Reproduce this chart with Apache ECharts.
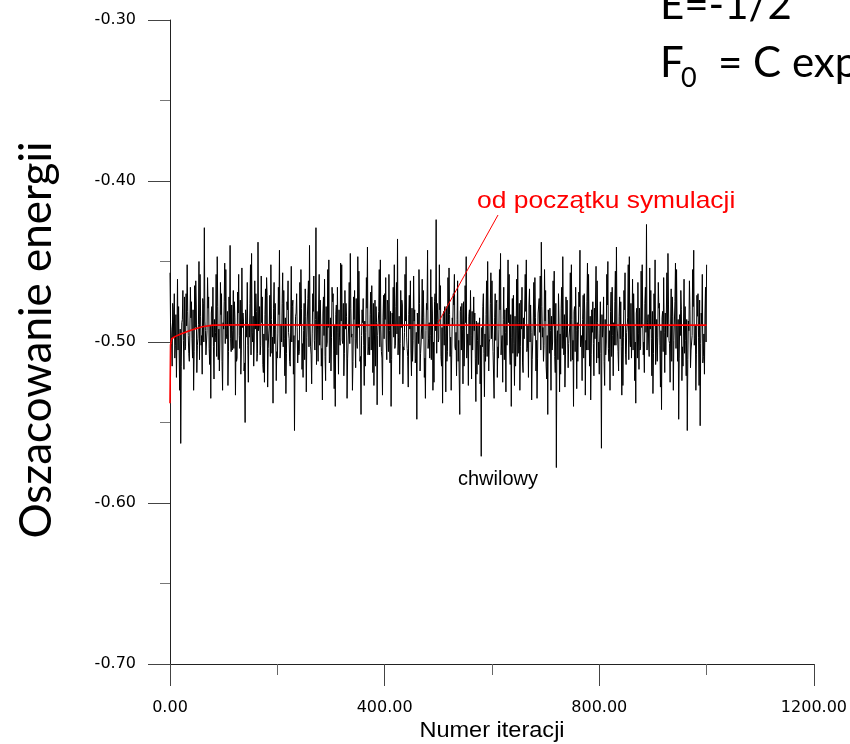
<!DOCTYPE html>
<html>
<head>
<meta charset="utf-8">
<script src="https://cdn.jsdelivr.net/npm/echarts@6/dist/echarts.min.js"></script>
<style>
html,body{margin:0;padding:0;background:#fff;}
#chart{width:850px;height:744px;}
</style>
</head>
<body>
<div id="chart"></div>
<script>
// Instantaneous energy estimate ("chwilowy").
// Values at even iterations 0,2,4,...,1000
const evenIterValues = [
 -0.457,-0.492,-0.515,-0.480,-0.470,-0.502,-0.522,-0.461,-0.478,-0.530,-0.563,-0.488,-0.468,-0.517,-0.505,-0.470,-0.452,-0.496,-0.512,-0.466,
 -0.475,-0.510,-0.530,-0.465,-0.462,-0.519,-0.498,-0.450,-0.458,-0.502,-0.520,-0.476,-0.429,-0.493,-0.508,-0.460,-0.472,-0.514,-0.535,-0.478,
 -0.466,-0.523,-0.500,-0.458,-0.447,-0.511,-0.518,-0.463,-0.470,-0.530,-0.492,-0.451,-0.455,-0.498,-0.527,-0.472,-0.440,-0.506,-0.505,-0.468,
 -0.475,-0.533,-0.512,-0.469,-0.458,-0.504,-0.520,-0.454,-0.482,-0.518,-0.550,-0.479,-0.463,-0.525,-0.497,-0.452,-0.445,-0.500,-0.515,-0.462,
 -0.470,-0.512,-0.438,-0.490,-0.508,-0.459,-0.472,-0.519,-0.525,-0.467,-0.460,-0.528,-0.495,-0.471,-0.452,-0.507,-0.538,-0.463,-0.476,-0.524,
 -0.510,-0.466,-0.443,-0.505,-0.500,-0.457,-0.468,-0.521,-0.532,-0.475,-0.462,-0.498,-0.515,-0.453,-0.478,-0.520,-0.555,-0.484,-0.470,-0.513,
 -0.508,-0.463,-0.455,-0.517,-0.522,-0.476,-0.467,-0.531,-0.498,-0.462,-0.440,-0.503,-0.526,-0.470,-0.459,-0.505,-0.429,-0.481,-0.512,-0.458,
 -0.474,-0.515,-0.536,-0.472,-0.461,-0.524,-0.503,-0.455,-0.449,-0.509,-0.518,-0.466,-0.470,-0.529,-0.540,-0.477,-0.466,-0.520,-0.497,-0.451,
 -0.452,-0.501,-0.521,-0.468,-0.476,-0.535,-0.510,-0.463,-0.445,-0.497,-0.530,-0.472,-0.468,-0.516,-0.500,-0.447,-0.456,-0.512,-0.545,-0.480,
 -0.473,-0.527,-0.515,-0.460,-0.441,-0.503,-0.508,-0.469,-0.465,-0.519,-0.527,-0.474,-0.478,-0.539,-0.496,-0.455,-0.449,-0.506,-0.533,-0.471,
 -0.470,-0.460,-0.511,-0.477,-0.458,-0.513,-0.540,-0.482,-0.466,-0.452,-0.502,-0.463,-0.436,-0.497,-0.520,-0.468,-0.474,-0.526,-0.505,-0.458,
 -0.447,-0.504,-0.528,-0.471,-0.462,-0.521,-0.512,-0.459,-0.480,-0.510,-0.548,-0.493,-0.455,-0.518,-0.500,-0.461,-0.468,-0.522,-0.535,-0.476,
 -0.443,-0.498,-0.510,-0.455,-0.472,-0.530,-0.525,-0.470,-0.424,-0.476,-0.500,-0.452,-0.465,-0.515,-0.538,-0.481,-0.478,-0.531,-0.512,-0.460,
 -0.454,-0.509,-0.530,-0.485,-0.470,-0.458,-0.505,-0.521,-0.462,-0.499,-0.545,-0.478,-0.476,-0.526,-0.515,-0.465,-0.447,-0.511,-0.527,-0.480,
 -0.468,-0.523,-0.505,-0.472,-0.482,-0.537,-0.520,-0.488,-0.495,-0.526,-0.571,-0.503,-0.470,-0.534,-0.512,-0.462,-0.450,-0.518,-0.498,-0.457,
 -0.462,-0.506,-0.535,-0.470,-0.476,-0.522,-0.510,-0.455,-0.445,-0.500,-0.525,-0.466,-0.480,-0.531,-0.502,-0.449,-0.458,-0.514,-0.540,-0.473,
 -0.471,-0.527,-0.515,-0.461,-0.452,-0.507,-0.530,-0.474,-0.466,-0.519,-0.498,-0.458,-0.449,-0.504,-0.522,-0.467,-0.477,-0.536,-0.510,-0.463,
 -0.460,-0.518,-0.535,-0.482,-0.473,-0.459,-0.438,-0.497,-0.512,-0.455,-0.468,-0.523,-0.545,-0.486,-0.479,-0.530,-0.505,-0.462,-0.456,-0.519,
 -0.578,-0.493,-0.470,-0.531,-0.520,-0.466,-0.447,-0.508,-0.528,-0.472,-0.474,-0.516,-0.500,-0.457,-0.452,-0.511,-0.540,-0.478,-0.466,-0.529,
 -0.512,-0.469,-0.443,-0.502,-0.524,-0.471,-0.470,-0.533,-0.505,-0.451,-0.458,-0.515,-0.536,-0.480,-0.475,-0.521,-0.498,-0.453,-0.462,-0.510,
 -0.520,-0.475,-0.566,-0.497,-0.472,-0.527,-0.508,-0.458,-0.450,-0.512,-0.530,-0.469,-0.466,-0.521,-0.502,-0.456,-0.441,-0.495,-0.518,-0.472,
 -0.475,-0.533,-0.527,-0.468,-0.457,-0.514,-0.495,-0.452,-0.447,-0.503,-0.510,-0.461,-0.470,-0.524,-0.538,-0.479,-0.463,-0.517,-0.505,-0.456,
 -0.452,-0.508,-0.519,-0.466,-0.427,-0.488,-0.500,-0.454,-0.468,-0.521,-0.532,-0.470,-0.449,-0.505,-0.512,-0.463,-0.476,-0.528,-0.542,-0.481,
 -0.460,-0.519,-0.508,-0.457,-0.445,-0.499,-0.525,-0.467,-0.472,-0.530,-0.500,-0.451,-0.455,-0.512,-0.548,-0.483,-0.468,-0.524,-0.515,-0.461,
 -0.478,-0.521,-0.555,-0.487,-0.462,-0.516,-0.505,-0.455,-0.443,-0.498,-0.530,-0.471,-0.470,-0.527,-0.552,-0.482,-0.458,-0.509,-0.520,-0.466,
 -0.452
];
// Values at odd iterations 1,3,5,...,999
const oddIterValues = [
 -0.488,-0.501,-0.476,-0.497,-0.510,-0.483,-0.495,-0.505,-0.479,-0.492,-0.515,-0.486,-0.499,-0.472,-0.503,-0.490,-0.481,-0.507,-0.494,-0.485,
 -0.498,-0.480,-0.506,-0.491,-0.477,-0.502,-0.489,-0.511,-0.484,-0.496,-0.473,-0.500,-0.487,-0.508,-0.493,-0.479,-0.504,-0.490,-0.482,-0.497,
 -0.503,-0.486,-0.494,-0.509,-0.478,-0.492,-0.500,-0.483,-0.512,-0.488,-0.475,-0.501,-0.495,-0.481,-0.506,-0.490,-0.498,-0.477,-0.493,-0.504,
 -0.485,-0.499,-0.510,-0.482,-0.496,-0.474,-0.505,-0.491,-0.487,-0.513,-0.480,-0.497,-0.502,-0.489,-0.476,-0.508,-0.494,-0.484,-0.500,-0.492,
 -0.481,-0.507,-0.493,-0.478,-0.502,-0.488,-0.514,-0.495,-0.483,-0.499,-0.471,-0.504,-0.490,-0.509,-0.486,-0.497,-0.479,-0.501,-0.492,-0.506,
 -0.495,-0.483,-0.510,-0.489,-0.476,-0.503,-0.498,-0.485,-0.507,-0.480,-0.494,-0.512,-0.487,-0.500,-0.474,-0.496,-0.505,-0.482,-0.491,-0.499,
 -0.506,-0.490,-0.479,-0.501,-0.493,-0.511,-0.484,-0.497,-0.473,-0.503,-0.488,-0.508,-0.495,-0.481,-0.499,-0.486,-0.514,-0.492,-0.477,-0.502,
 -0.489,-0.504,-0.482,-0.496,-0.509,-0.478,-0.500,-0.491,-0.513,-0.485,-0.497,-0.475,-0.505,-0.490,-0.483,-0.508,-0.494,-0.480,-0.502,-0.487,
 -0.499,-0.476,-0.507,-0.492,-0.484,-0.510,-0.489,-0.501,-0.479,-0.495,-0.512,-0.486,-0.498,-0.473,-0.504,-0.491,-0.482,-0.509,-0.496,-0.488,
 -0.502,-0.487,-0.494,-0.479,-0.508,-0.497,-0.483,-0.505,-0.490,-0.476,-0.500,-0.515,-0.488,-0.496,-0.481,-0.503,-0.492,-0.510,-0.485,-0.498,
 -0.486,-0.500,-0.474,-0.506,-0.493,-0.481,-0.511,-0.489,-0.497,-0.504,-0.478,-0.495,-0.508,-0.484,-0.501,-0.491,-0.477,-0.503,-0.494,-0.487,
 -0.497,-0.509,-0.483,-0.492,-0.505,-0.479,-0.499,-0.487,-0.513,-0.494,-0.482,-0.501,-0.476,-0.507,-0.490,-0.498,-0.485,-0.510,-0.493,-0.480,
 -0.504,-0.488,-0.496,-0.511,-0.482,-0.500,-0.475,-0.493,-0.507,-0.486,-0.498,-0.480,-0.509,-0.491,-0.484,-0.502,-0.495,-0.478,-0.506,-0.489,
 -0.483,-0.497,-0.508,-0.490,-0.477,-0.503,-0.494,-0.486,-0.512,-0.499,-0.481,-0.505,-0.492,-0.475,-0.500,-0.488,-0.510,-0.495,-0.484,-0.502,
 -0.496,-0.481,-0.504,-0.493,-0.510,-0.487,-0.499,-0.514,-0.485,-0.502,-0.491,-0.478,-0.507,-0.495,-0.483,-0.509,-0.490,-0.500,-0.476,-0.498,
 -0.490,-0.506,-0.485,-0.499,-0.474,-0.503,-0.492,-0.480,-0.508,-0.496,-0.486,-0.511,-0.494,-0.479,-0.501,-0.488,-0.505,-0.483,-0.497,-0.507,
 -0.501,-0.484,-0.495,-0.509,-0.488,-0.476,-0.503,-0.492,-0.513,-0.485,-0.498,-0.481,-0.506,-0.490,-0.477,-0.500,-0.494,-0.511,-0.487,-0.496,
 -0.485,-0.499,-0.510,-0.482,-0.494,-0.505,-0.478,-0.491,-0.502,-0.487,-0.515,-0.496,-0.480,-0.507,-0.493,-0.484,-0.500,-0.489,-0.509,-0.476,
 -0.498,-0.511,-0.487,-0.495,-0.479,-0.504,-0.492,-0.483,-0.508,-0.497,-0.474,-0.501,-0.490,-0.512,-0.486,-0.499,-0.481,-0.506,-0.493,-0.488,
 -0.492,-0.478,-0.503,-0.496,-0.486,-0.510,-0.482,-0.499,-0.475,-0.505,-0.491,-0.484,-0.508,-0.494,-0.501,-0.479,-0.497,-0.513,-0.488,-0.500,
 -0.495,-0.507,-0.483,-0.491,-0.512,-0.486,-0.500,-0.477,-0.504,-0.493,-0.481,-0.509,-0.496,-0.488,-0.475,-0.502,-0.490,-0.506,-0.484,-0.498,
 -0.503,-0.489,-0.497,-0.480,-0.508,-0.494,-0.485,-0.511,-0.499,-0.476,-0.492,-0.505,-0.487,-0.500,-0.482,-0.510,-0.495,-0.479,-0.503,-0.491,
 -0.487,-0.500,-0.476,-0.494,-0.505,-0.483,-0.509,-0.492,-0.498,-0.481,-0.507,-0.490,-0.514,-0.486,-0.497,-0.479,-0.502,-0.493,-0.485,-0.506,
 -0.494,-0.482,-0.508,-0.497,-0.477,-0.501,-0.489,-0.512,-0.484,-0.499,-0.475,-0.504,-0.492,-0.486,-0.510,-0.496,-0.480,-0.503,-0.490,-0.507,
 -0.499,-0.486,-0.511,-0.493,-0.480,-0.505,-0.496,-0.478,-0.502,-0.490,-0.508,-0.484,-0.497,-0.474,-0.501,-0.489,-0.513,-0.495,-0.482,-0.500
];

// Running average "od początku symulacji"
const runningIter = [0, 1, 3, 10, 20, 40, 60, 80, 150, 300, 500, 700, 900, 1000];
const runningAvg  = [-0.538, -0.502, -0.498, -0.4965, -0.495, -0.4925, -0.4905, -0.4895, -0.4893, -0.4895, -0.4895, -0.4894, -0.4895, -0.4895];

const instantData = [];
evenIterValues.forEach((v, i) => {
  instantData.push([2 * i, v]);
  if (i < oddIterValues.length) instantData.push([2 * i + 1, oddIterValues[i]]);
});
const runningData = runningIter.map((x, i) => [x, runningAvg[i]]);

const chart = echarts.init(document.getElementById('chart'), null, {renderer: 'canvas'});
const AX = '#222';
const LBL = {fontFamily: 'DejaVu Sans', fontSize: 16, color: '#000'};

chart.setOption({
  animation: false,
  backgroundColor: '#fff',
  grid: {left: 170, right: 35, top: 20, bottom: 80},
  xAxis: {
    type: 'value', min: 0, max: 1200, interval: 400,
    axisLine: {show: true, onZero: false, lineStyle: {color: AX, width: 1}},
    axisTick: {show: true, length: 22, lineStyle: {color: '#444'}},
    minorTick: {show: true, splitNumber: 2, length: 11, lineStyle: {color: '#666'}},
    splitLine: {show: false},
    axisLabel: Object.assign({margin: 36, showMaxLabel: true, showMinLabel: true,
      formatter: v => v.toFixed(2)}, LBL)
  },
  yAxis: {
    type: 'value', min: -0.7, max: -0.3, interval: 0.1,
    axisLine: {show: true, lineStyle: {color: AX, width: 1}},
    axisTick: {show: true, length: 22, lineStyle: {color: '#444'}},
    minorTick: {show: true, splitNumber: 2, length: 10, lineStyle: {color: '#777'}},
    splitLine: {show: false},
    axisLabel: Object.assign({margin: 34, formatter: v => v.toFixed(2)}, LBL)
  },
  series: [
    {
      name: 'chwilowy', type: 'line', data: instantData, showSymbol: false,
      sampling: undefined, lineStyle: {color: '#000', width: 1}, z: 2
    },
    {
      name: 'od początku symulacji', type: 'line', data: runningData, showSymbol: false,
      lineStyle: {color: '#ff0000', width: 1.6}, z: 3
    }
  ],
  graphic: [
    {type: 'text', x: 37, y: 340, rotation: Math.PI / 2,
     style: {text: 'Oszacowanie energii', font: '44px Lato', fill: '#000', align: 'center', verticalAlign: 'middle'}},
    {type: 'text', x: 492, y: 731, scaleX: 1.07,
     style: {text: 'Numer iteracji', font: '22px "Liberation Sans"', fill: '#000', align: 'center', verticalAlign: 'middle'}},
    {type: 'text', x: 660, y: 5,
     style: {text: 'E=-1/2', font: '42px Lato', fill: '#000', align: 'left', verticalAlign: 'middle'}},
    {type: 'text', x: 660, y: 63,
     style: {text: 'F', font: '42px Lato', fill: '#000', align: 'left', verticalAlign: 'middle'}},
    {type: 'text', x: 681, y: 78,
     style: {text: '0', font: '27px Lato', fill: '#000', align: 'left', verticalAlign: 'middle'}},
    {type: 'text', x: 718, y: 63,
     style: {text: '= C exp', font: '42px Lato', fill: '#000', align: 'left', verticalAlign: 'middle'}},
    {type: 'text', x: 477, y: 201, scaleX: 1.1,
     style: {text: 'od początku symulacji', font: '24px "Liberation Sans"', fill: '#ff0000', align: 'left', verticalAlign: 'middle'}},
    {type: 'line', shape: {x1: 498, y1: 215, x2: 438, y2: 323},
     style: {stroke: '#ff0000', lineWidth: 1}, z: 10},
    {type: 'text', x: 458, y: 479,
     style: {text: 'chwilowy', font: '20px "Liberation Sans"', fill: '#000', align: 'left', verticalAlign: 'middle'}}
  ]
});
</script>
</body>
</html>
